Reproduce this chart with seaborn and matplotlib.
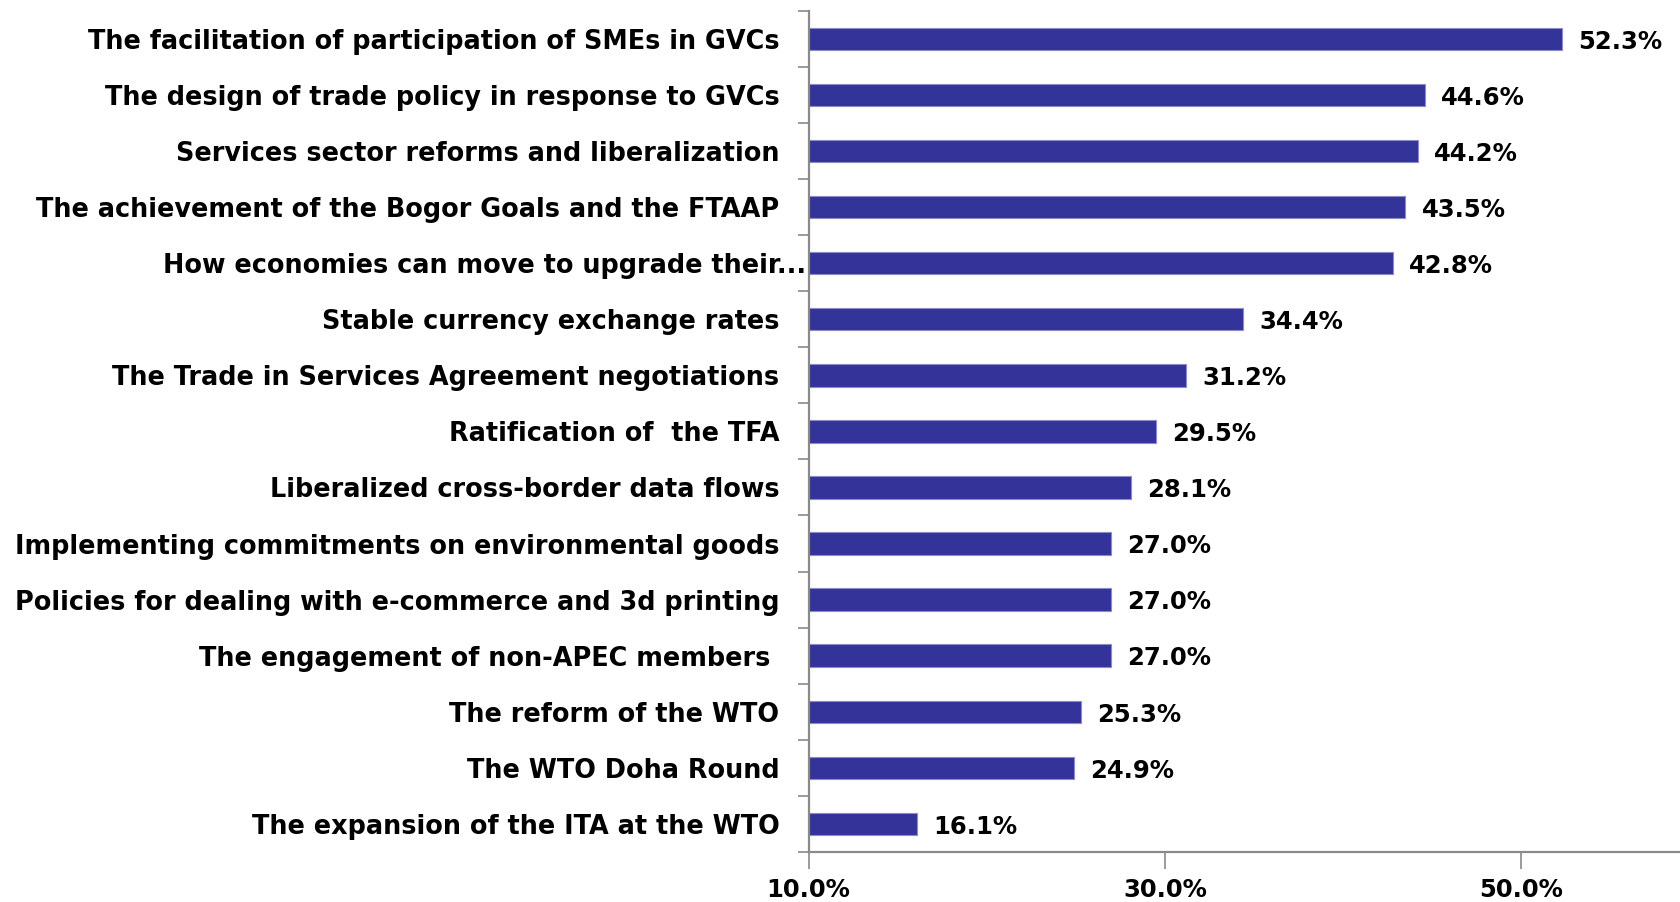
"""Horizontal bar chart: share of respondents naming each trade issue as a priority."""

import matplotlib.pyplot as plt
import matplotlib.transforms as mtransforms
import numpy as np
import pandas as pd
import seaborn as sns

_BAR_COLOR  = "#333399"
_EDGE_COLOR = "#8c8cc8"
_AXIS_COLOR = "#8a8a8a"
_LABEL_SIZE = 18.4
_VALUE_SIZE = 17.5

issues = [
    "The facilitation of participation of SMEs in GVCs",
    "The design of trade policy in response to GVCs",
    "Services sector reforms and liberalization",
    "The achievement of the Bogor Goals and the FTAAP",
    "How economies can move to upgrade their...",
    "Stable currency exchange rates",
    "The Trade in Services Agreement negotiations",
    "Ratification of  the TFA",
    "Liberalized cross-border data flows",
    "Implementing commitments on environmental goods",
    "Policies for dealing with e-commerce and 3d printing",
    "The engagement of non-APEC members ",
    "The reform of the WTO",
    "The WTO Doha Round",
    "The expansion of the ITA at the WTO",
]
shares = [52.3, 44.6, 44.2, 43.5, 42.8, 34.4, 31.2, 29.5, 28.1,
          27.0, 27.0, 27.0, 25.3, 24.9, 16.1]
x_ticks = [10, 30, 50]

df = pd.DataFrame({"issue": issues, "share": shares})

sns.set_theme(style="white")
plt.rcParams["font.family"] = ["DejaVu Sans"]
plt.rcParams["font.weight"] = "bold"
plt.rcParams["text.color"] = "black"
plt.rcParams["xtick.color"] = "black"
plt.rcParams["ytick.color"] = "black"

fig = plt.figure(figsize=(16.81, 9.02), dpi=100)
ax = fig.add_axes([0.481, 0.0555, 0.53, 0.9325])

sns.barplot(
    data=df, x="share", y="issue", orient="h",
    color=_BAR_COLOR, width=0.4, saturation=1,
    edgecolor=_EDGE_COLOR, linewidth=0.8, ax=ax,
)

ax.set_xlim(10, 60)
ax.set_ylim(len(issues) - 0.5, -0.5)

# value labels just past the end of each bar
for i, v in enumerate(shares):
    ax.text(v + 0.9, i + 0.05, f"{v:.1f}%", va="center", ha="left",
            fontsize=_VALUE_SIZE, fontweight="bold", color="black")

# axes styling
sns.despine(ax=ax, top=True, right=True)
for side in ("left", "bottom"):
    ax.spines[side].set_color(_AXIS_COLOR)
    ax.spines[side].set_linewidth(1.6)

ax.set_xticks(x_ticks)
ax.set_xticklabels([f"{t:.1f}%" for t in x_ticks])
ax.tick_params(axis="x", bottom=True, length=12, width=1.2, color=_AXIS_COLOR,
               labelcolor="black", pad=7, labelsize=_VALUE_SIZE)

ax.set_yticks(np.arange(len(issues)))
ax.set_yticklabels(issues)
ax.set_yticks(np.arange(-0.5, len(issues), 1.0), minor=True)
ax.tick_params(axis="y", which="major", left=False, length=0, pad=21,
               labelcolor="black", labelsize=_LABEL_SIZE)
ax.tick_params(axis="y", which="minor", left=True, length=8, width=1.2,
               color=_AXIS_COLOR)

for lab in ax.get_xticklabels() + ax.get_yticklabels():
    lab.set_fontweight("bold")

# the truncated label runs right up to the axis in the original
shift = mtransforms.ScaledTranslation(0.27, 0, fig.dpi_scale_trans)
trunc = ax.get_yticklabels()[4]
trunc.set_transform(trunc.get_transform() + shift)

ax.set_xlabel("")
ax.set_ylabel("")
ax.grid(False)

fig.savefig("out.png", dpi=100)
